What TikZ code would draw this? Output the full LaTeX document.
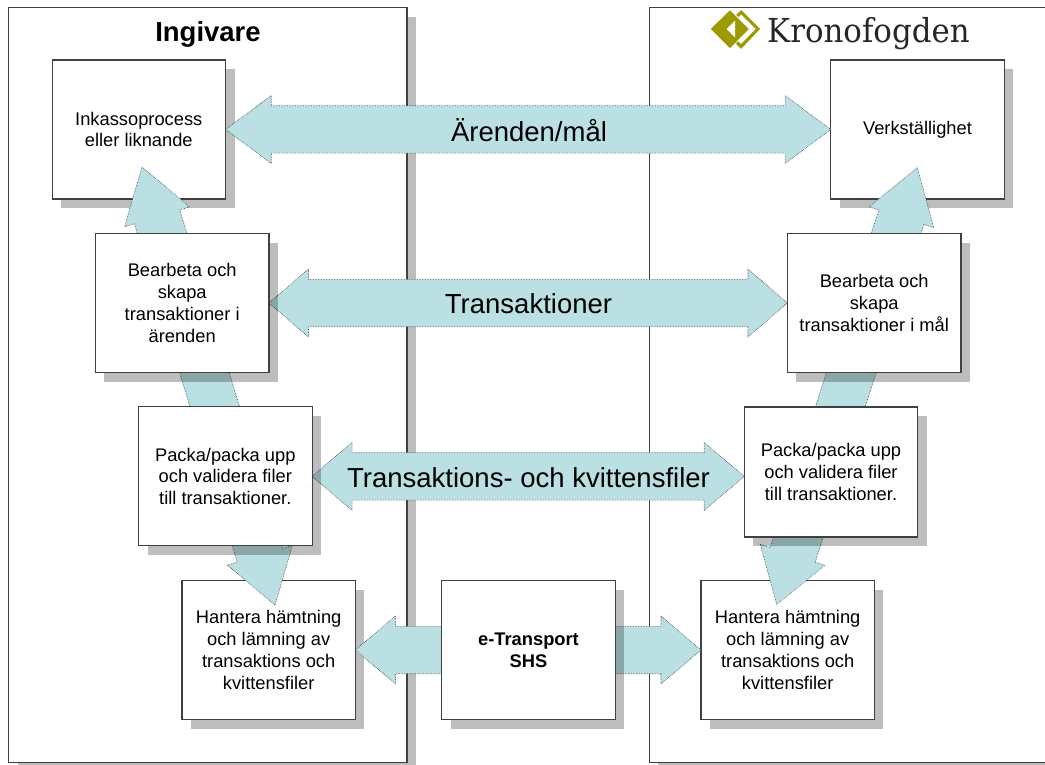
\documentclass[tikz,border=0pt]{standalone}
\usepackage{fontspec}
\setmainfont{Liberation Sans}
\newfontfamily\logofont[FakeStretch=0.935]{DejaVu Serif}
\definecolor{flowblue}{RGB}{187,224,227}
\definecolor{logoolive}{RGB}{156,154,0}
\usetikzlibrary{calc,shadows}
\pgfdeclarelayer{back}
\pgfdeclarelayer{mid}
\pgfsetlayers{back,mid,main}

\begin{document}
\begin{tikzpicture}[x=1pt,y=-1pt,
    flow/.style={fill=flowblue,draw=black!75,line width=0.6pt,densely dotted,
      to path={
        -- ($(\tikztostart)!#1!(\tikztotarget)!34pt!90:(\tikztotarget)$)
        -- ($(\tikztostart)!#1!(\tikztotarget)!23.7pt!90:(\tikztotarget)$)
        -- ($(\tikztotarget)!#1!(\tikztostart)!23.7pt!-90:(\tikztostart)$)
        -- ($(\tikztotarget)!#1!(\tikztostart)!34pt!-90:(\tikztostart)$)
        -- (\tikztotarget)
        -- ($(\tikztotarget)!#1!(\tikztostart)!34pt!90:(\tikztostart)$)
        -- ($(\tikztotarget)!#1!(\tikztostart)!23.7pt!90:(\tikztostart)$)
        -- ($(\tikztostart)!#1!(\tikztotarget)!23.7pt!-90:(\tikztotarget)$)
        -- ($(\tikztostart)!#1!(\tikztotarget)!34pt!-90:(\tikztotarget)$)
        -- cycle}},
    flowone/.style={fill=flowblue,draw=black!75,line width=0.6pt,densely dotted,
      to path={
        -- ($(\tikztostart)!23.7pt!90:(\tikztotarget)$)
        -- ($(\tikztotarget)!#1!(\tikztostart)!23.7pt!-90:(\tikztostart)$)
        -- ($(\tikztotarget)!#1!(\tikztostart)!34pt!-90:(\tikztostart)$)
        -- (\tikztotarget)
        -- ($(\tikztotarget)!#1!(\tikztostart)!34pt!90:(\tikztostart)$)
        -- ($(\tikztotarget)!#1!(\tikztostart)!23.7pt!90:(\tikztostart)$)
        -- ($(\tikztostart)!23.7pt!-90:(\tikztotarget)$)
        -- cycle}}]
      \tikzstyle{panel}=[draw=black!75,line width=1.1pt,fill=white,inner sep=0pt,outer sep=0pt,
        minimum height=754.5pt,
        drop shadow={shadow xshift=9pt,shadow yshift=-9pt,opacity=0.26,fill=black}]
      \tikzstyle{box}=[panel,minimum width=173.5pt,minimum height=139pt,align=center,
        font=\fontsize{18.3}{21.7}\selectfont]
      \tikzstyle{flowtext}=[inner sep=0pt,font=\fontsize{27.5}{33}\selectfont]
      \useasboundingbox (0,0) rectangle (1045,765);

      % lower boxes, the wide arrows run over these
      \begin{pgfonlayer}{back}
      \node[panel,minimum width=398.3pt] (ingivare) at (207.85,385.2) {};
      \node[panel,minimum width=420.7pt] (fogden) at (859.65,385.2) {};
      \node[box] (inkasso) at (138.8,129.5) {Inkassoprocess\\eller liknande};
      \node[box] (verk) at (917.5,129.5) {Verkställighet};
      \node[box] (hantL) at (268.7,650) {Hantera hämtning\\och lämning av\\transaktions och\\kvittensfiler};
      \node[box] (hantR) at (787.7,650) {Hantera hämtning\\och lämning av\\transaktions och\\kvittensfiler};
      \end{pgfonlayer}

      % upper boxes
      \node[box] (bearbL) at (182.2,303) {Bearbeta och\\skapa\\transaktioner i\\ärenden};
      \node[box] (bearbR) at (874.2,303) {Bearbeta och\\skapa\\transaktioner i mål};
      \node[box] (packL) at (225.3,476.4) {Packa/packa upp\\och validera filer\\till transaktioner.};
      \node[box,minimum height=130pt] (packR) at (831,472) {Packa/packa upp\\och validera filer\\till transaktioner.};
      \node[box,font=\fontsize{18.3}{21.7}\selectfont\bfseries] (shs) at (528.5,650) {e-Transport\\SHS};

      \coordinate (topL) at (142,167);
      \coordinate (botL) at (275,605);
      \coordinate (topR) at (917.3,167.7);
      \coordinate (botR) at (776.7,604.3);

      \begin{pgfonlayer}{mid}
      \path[flow=52pt] (topL) to (botL);
      \path[flow=52pt] (topR) to (botR);
      \path[flow=45.7pt] (inkasso.east) to (verk.west);
      \path[flow=39.5pt] (bearbL.east) to (bearbR.west);
      \path[flow=40pt] (packL.east) to (packL.east -| packR.west);
      \path[flowone=40pt] (shs.west) to (hantL.east);
      \path[flowone=40pt] (shs.east) to (hantR.west);
      \end{pgfonlayer}

      \node[flowtext] (arenden) at (529,130) {Ärenden/mål};
      \node[flowtext] (transakt) at (528.5,304) {Transaktioner};
      \node[flowtext] (filer) at (528.5,478) {Transaktions- och kvittensfiler};
      \node[inner sep=0pt,anchor=base,font=\fontsize{27.5}{33}\selectfont\bfseries] (ingtext) at (208,41.7) {Ingivare};

      % logo
      \fill[logoolive] (722,29) -- (741,10) -- (760,29) -- (741,49) -- cycle;
      \fill[white] (726.5,29) -- (741,14.5) -- (755.5,29) -- (741,44) -- cycle;
      \fill[logoolive,draw=white,line width=0.8pt] (710,29) -- (730,9.5) -- (749.5,29) -- (730,49) -- cycle;
      \fill[white] (726.5,29) -- (735,20.5) -- (735,37.5) -- cycle;
      \node[inner sep=0pt,anchor=base west,text=black!85,font=\logofont\fontsize{33}{40}\selectfont] (kfm) at (767,43) {Kronofogden};

  \end{tikzpicture}
\end{document}
